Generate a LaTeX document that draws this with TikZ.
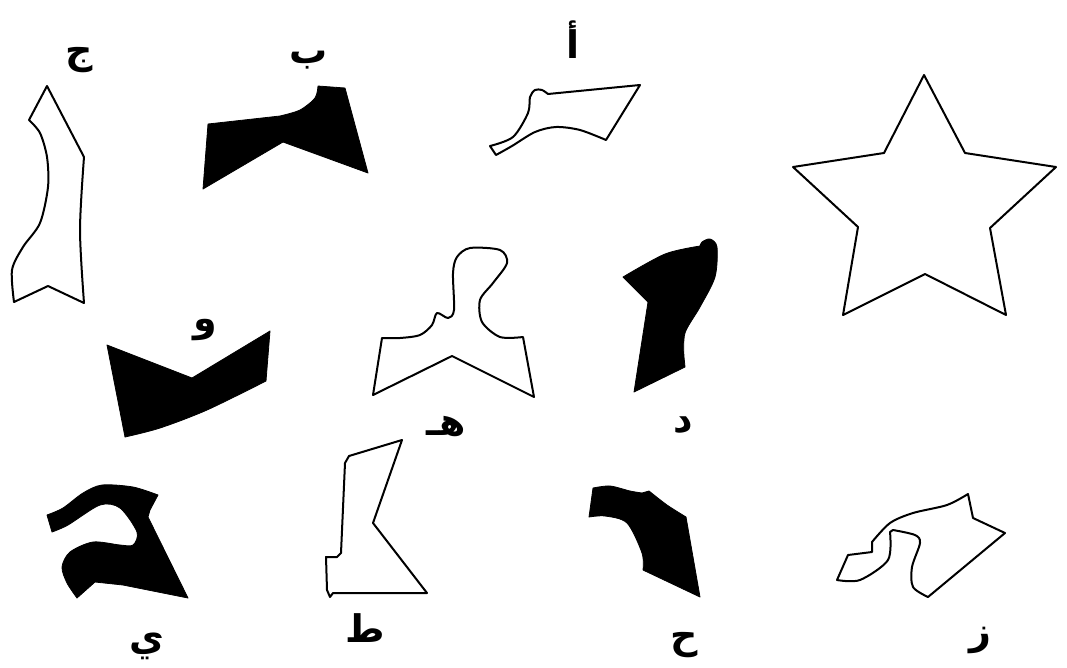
\documentclass[tikz,border=0pt]{standalone}
\usepackage{fontspec}
\newfontfamily\arabicfont[Script=Arabic]{DejaVu Sans}
\TeXXeTstate=1
\begin{document}
\begin{tikzpicture}[x=1pt,y=-1pt,
  outl/.style={draw=black,line width=2pt,line join=round,fill=white},
  solid shape/.style={draw=black,line width=0.8pt,line join=round,fill=black},
  lbl/.style={font=\arabicfont\bfseries\fontsize{38}{40}\selectfont,inner sep=0pt}]
\useasboundingbox (0,0) rectangle (1067,667);
% jim
\draw[outl] (47,86) -- (84,157) -- plot[smooth] coordinates {(84,157) (80,230) (84,303)} -- (48,286) -- (14,302)
  -- plot[smooth] coordinates {(14,302) (12,270) (23,247) (40,223) (48,187) (47,157) (40,133) (29,120)} -- cycle;
% ba
\draw[solid shape] (208,124) -- (280,116) -- plot[smooth] coordinates {(280,116) (300,110) (315,98) (318,86)} -- (345,88) -- (368,173) -- (283,142) -- (203,189) -- cycle;
% alif
\draw[outl] (548,94) -- (640,85) -- (606,140)
  -- plot[smooth] coordinates {(606,140) (580,130) (556,127) (535,132) (512,146) (496,155)} -- (490,146)
  -- plot[smooth] coordinates {(490,146) (513,137) (528,113) (530,97) (535,90) (542,90) (548,94)} -- cycle;
% star
\draw[outl] (924,75) -- (965,153) -- (1056,167) -- (990,228) -- (1006,315) -- (925,274) -- (843,315) -- (858,227) -- (793,167) -- (884,153) -- cycle;
% waw
\draw[solid shape] (107,345) -- (192,378) -- (270,331) -- (266,381)
  -- plot[smooth] coordinates {(266,381) (207,410) (160,428) (125,437)} -- cycle;
% ha
\draw[outl] (382,338) -- (373,395) -- (452,356) -- (534,397) -- (523,337)
  -- plot[smooth] coordinates {(523,337) (500,337) (482,322) (480,300) (493,283) (507,263) (500,250) (470,248) (457,257) (453,273) (454,310) (448,318) (437,313) (432,325) (420,335) (400,338) (382,338)} -- cycle;
% dal
\draw[solid shape] (623,277) -- (648,302) -- (634,392) -- (685,367) -- (684,357)
  -- plot[smooth] coordinates {(684,357) (685,333) (700,307) (715,277) (717,247) (710,239) (702,242) (700,246)}
  -- plot[smooth] coordinates {(700,246) (665,254) (623,277)} -- cycle;
% ya
\draw[solid shape] (47,515) -- (52,532)
  -- plot[smooth] coordinates {(52,532) (68,525) (100,505) (120,508) (137,532) (133,545) (120,545) (93,542) (70,552) (62,567) (67,583) (77,598)}
  -- (95,582) -- (123,585) -- (188,598) -- (148,517) -- (150,510) -- (158,495)
  -- plot[smooth] coordinates {(158,495) (133,487) (102,485) (83,493) (63,508) (47,515)} -- cycle;
% ta
\draw[outl] (402,440) -- (349,456) -- (345,463) -- (341,553) -- (337,557) -- (326,557) -- (327,590) -- (330,597) -- (333,593) -- (427,593) -- (373,523) -- cycle;
% hha
\draw[solid shape] (593,488) -- plot[smooth] coordinates {(593,488) (610,486) (630,491) (642,493)} -- (649,491)
  -- plot[smooth] coordinates {(649,491) (667,505) (686,517)} -- (700,597) -- (643,570)
  -- plot[smooth] coordinates {(643,570) (642,553) (627,523) (605,516) (589,517)} -- cycle;
% zay
\draw[outl] (837,580) -- (848,555) -- (872,552) -- (872,542)
  -- plot[smooth] coordinates {(872,542) (890,523) (913,513) (947,505) (968,494)} -- (973,518) -- (1005,533) -- (928,597)
  -- plot[smooth] coordinates {(928,597) (913,587) (912,567) (920,543) (915,535) (893,530)} -- (890,532)
  -- plot[smooth] coordinates {(890,532) (888,560) (860,580) (837,580)} -- cycle;
% labels
\node[lbl] (ljim) at (79,60) {\beginR ج\endR};
\node[lbl] (lba) at (309,60) {\beginR ب\endR};
\node[lbl] (lalif) at (573,40) {\beginR أ\endR};
\node[lbl] (lwaw) at (205,330) {\beginR و\endR};
\node[lbl] (lha) at (446,426) {\beginR هـ\endR};
\node[lbl] (ldal) at (683,425) {\beginR د\endR};
\node[lbl] (lya) at (147,646) {\beginR ي\endR};
\node[lbl] (lta) at (365,628) {\beginR ط\endR};
\node[lbl] (lhha) at (684,645) {\beginR ح\endR};
\node[lbl] (lzay) at (980,640) {\beginR ز\endR};
\end{tikzpicture}
\end{document}
